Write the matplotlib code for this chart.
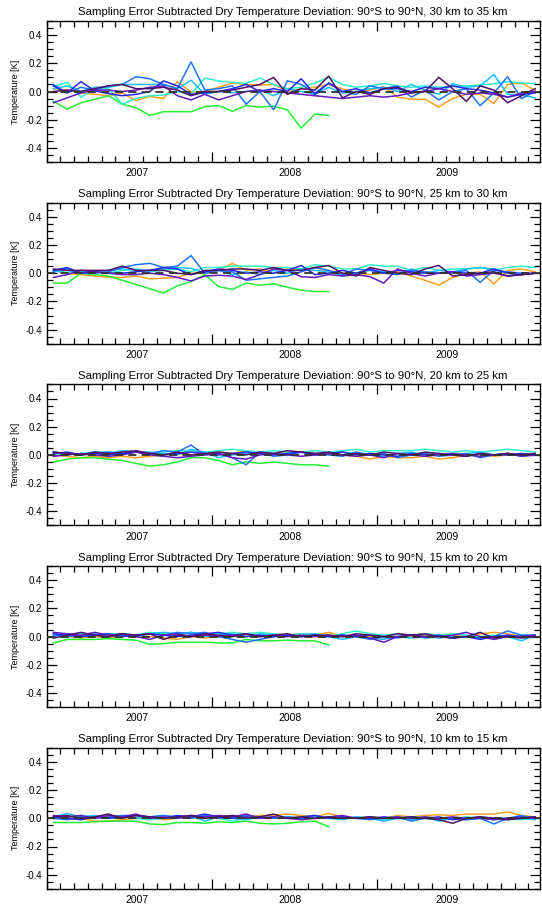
import matplotlib
matplotlib.use("Agg")
import matplotlib.pyplot as plt
import numpy as np
from matplotlib.ticker import MultipleLocator, FormatStrFormatter, FixedLocator
from matplotlib.transforms import blended_transform_factory

plt.rcParams['font.family'] = ['Liberation Sans', 'DejaVu Sans']
plt.rcParams['axes.unicode_minus'] = False

# Monthly time axis (month index, values sit at mid-month)
n_months = 36
year_labels = ['2007', '2008', '2009']
year_label_pos = [6.6, 17.7, 29.1]
year_ticks = [12, 24]

layers = ['30 km to 35 km', '25 km to 30 km', '20 km to 25 km',
          '15 km to 20 km', '10 km to 15 km']

# ---- 30 km to 35 km ----
green_30 = [-0.07, -0.125, -0.08, -0.055, -0.03, -0.09, -0.115, -0.17, -0.143, -0.143, -0.143, -0.107,
            -0.10, -0.14, -0.10, -0.11, -0.105, -0.13, -0.26, -0.16, -0.17]
orange_30 = [0.02, 0.01, -0.01, -0.02, -0.03, -0.01, -0.065, -0.035, -0.05, 0.07, -0.005, 0.0,
             0.03, 0.06, 0.05, 0.045, 0.05, 0.0, 0.02, 0.03, 0.05, 0.02, -0.01, 0.01,
             0.035, -0.04, -0.055, -0.055, -0.11, -0.05, -0.02, -0.02, -0.085, 0.05, 0.06, 0.01]
turq_30 = [0.035, 0.065, -0.04, 0.015, 0.02, -0.09, -0.05, -0.03, -0.025, 0.0, -0.02, 0.095,
           0.075, 0.065, 0.057, 0.095, 0.05, 0.02, 0.03, 0.06, 0.1, 0.05, 0.03, 0.04,
           0.057, 0.04, 0.03, 0.04, 0.03, 0.035, 0.04, 0.045, 0.055, 0.07, 0.06, 0.057]
sky_30 = [0.02, 0.04, 0.0, 0.03, 0.03, 0.05, 0.05, 0.05, 0.05, 0.02, 0.08, -0.02,
          0.0, -0.01, 0.0, 0.01, -0.03, 0.02, 0.0, -0.02, 0.03, -0.01, 0.0, 0.02,
          0.03, 0.0, 0.05, 0.01, -0.02, 0.055, 0.03, 0.04, 0.12, -0.02, -0.025, -0.045]
dodger_30 = [0.05, -0.01, 0.03, 0.01, 0.04, 0.05, 0.105, 0.09, 0.05, 0.02, 0.21, 0.01,
             0.02, 0.04, -0.09, 0.0, -0.13, 0.075, 0.05, -0.01, 0.06, 0.0, -0.02, 0.04,
             0.02, 0.04, -0.04, 0.01, -0.06, 0.0, 0.02, -0.1, -0.01, 0.105, -0.05, 0.0]
blue_30 = [0.04, -0.01, 0.07, 0.005, -0.015, -0.03, -0.02, 0.0, 0.075, 0.04, -0.02, -0.01,
           0.0, 0.02, 0.05, 0.0, 0.02, 0.0, 0.09, -0.02, 0.06, 0.0, 0.02, -0.01,
           0.02, 0.02, 0.0, 0.03, 0.02, 0.04, 0.02, 0.01, -0.01, -0.04, -0.02, -0.01]
purple_30 = [-0.08, -0.045, -0.01, 0.01, 0.01, 0.0, 0.01, 0.03, 0.04, -0.03, -0.06, -0.02,
             -0.06, -0.03, 0.0, 0.01, 0.0, -0.01, -0.02, -0.03, -0.04, -0.05, -0.04, -0.03,
             -0.04, -0.03, -0.01, 0.0, 0.02, 0.0, -0.02, -0.01, -0.02, -0.04, -0.01, 0.0]
dpurple_30 = [0.0, 0.01, 0.0, 0.02, 0.04, 0.05, 0.02, 0.02, 0.03, 0.01, -0.03, 0.0,
              0.0, 0.01, 0.03, 0.05, 0.1, -0.02, 0.02, 0.01, 0.11, -0.045, 0.0, -0.02,
              0.02, 0.03, -0.01, 0.0, 0.1, 0.02, -0.07, 0.04, 0.01, -0.08, -0.03, 0.02]

# ---- 25 km to 30 km ----
green_25 = [-0.07, -0.07, 0.0, -0.01, -0.02, -0.05, -0.08, -0.11, -0.14, -0.09, -0.06, -0.01,
            -0.095, -0.115, -0.07, -0.085, -0.075, -0.1, -0.12, -0.13, -0.13]
orange_25 = [0.02, 0.0, -0.01, -0.02, -0.03, -0.03, -0.02, -0.04, -0.035, -0.03, 0.0, 0.0,
             0.02, 0.07, 0.02, 0.03, 0.0, 0.03, 0.02, 0.04, 0.02, 0.0, 0.0, -0.01,
             0.0, 0.01, -0.02, -0.05, -0.085, -0.03, 0.0, 0.01, -0.075, 0.02, 0.03, 0.01]
turq_25 = [0.02, 0.0, 0.01, 0.01, 0.0, 0.02, 0.03, 0.01, 0.02, 0.03, 0.01, 0.04,
           0.04, 0.05, 0.05, 0.05, 0.04, 0.04, 0.03, 0.06, 0.05, 0.03, 0.03, 0.06,
           0.05, 0.05, 0.02, 0.04, 0.02, 0.03, 0.03, 0.04, 0.02, 0.04, 0.05, 0.04]
sky_25 = [0.01, 0.02, 0.0, 0.01, 0.02, 0.03, 0.02, 0.02, 0.03, 0.04, 0.035, 0.0,
          0.02, -0.01, 0.01, -0.01, 0.02, 0.0, 0.03, 0.02, 0.01, -0.02, 0.0, 0.02,
          0.01, -0.01, 0.03, 0.0, 0.02, 0.01, 0.03, 0.04, 0.03, 0.0, -0.01, 0.0]
dodger_25 = [0.02, 0.03, 0.0, 0.0, 0.01, 0.04, 0.06, 0.07, 0.04, 0.05, 0.125, 0.0,
             0.02, 0.01, -0.05, -0.04, -0.03, -0.02, 0.01, 0.04, 0.02, -0.01, 0.03, 0.02,
             0.0, -0.01, 0.02, 0.01, 0.0, 0.0, 0.02, -0.065, 0.02, 0.01, 0.0, 0.0]
blue_25 = [0.02, 0.04, 0.0, 0.01, 0.0, 0.0, 0.01, 0.02, 0.04, 0.03, -0.01, 0.01,
           0.03, 0.02, 0.0, 0.01, 0.0, 0.02, 0.055, -0.01, 0.0, 0.02, 0.0, 0.03,
           0.0, 0.02, 0.01, 0.0, 0.0, 0.01, 0.0, 0.0, 0.03, 0.0, -0.01, 0.0]
purple_25 = [-0.03, -0.01, 0.02, 0.01, 0.0, -0.01, -0.01, 0.0, -0.01, -0.03, -0.055, -0.02,
             -0.015, -0.02, -0.045, -0.01, 0.03, 0.02, -0.025, -0.03, -0.01, -0.02, -0.01, -0.025,
             -0.07, 0.03, 0.0, -0.02, 0.0, 0.01, -0.02, -0.01, 0.0, -0.02, -0.01, 0.0]
dpurple_25 = [0.03, 0.02, 0.02, 0.02, 0.02, 0.05, 0.02, 0.02, 0.02, 0.0, -0.01, 0.02,
              0.02, 0.03, 0.03, 0.02, 0.04, 0.02, 0.02, 0.04, 0.055, 0.0, -0.02, 0.04,
              0.02, 0.0, -0.01, 0.03, 0.055, -0.02, -0.01, 0.0, 0.01, -0.02, -0.01, 0.0]

# ---- 20 km to 25 km ----
green_20 = [-0.05, -0.03, -0.02, -0.02, -0.03, -0.04, -0.06, -0.08, -0.07, -0.05, -0.02, -0.02,
            -0.04, -0.07, -0.05, -0.06, -0.05, -0.06, -0.07, -0.07, -0.08]
orange_20 = [0.0, -0.01, -0.02, -0.01, -0.02, -0.01, -0.02, -0.01, 0.0, 0.01, 0.0, 0.01,
             0.02, 0.01, 0.03, 0.01, 0.0, 0.01, 0.02, 0.01, 0.0, 0.0, -0.01, -0.03,
             -0.01, -0.02, -0.02, -0.01, -0.03, -0.02, 0.0, 0.0, -0.01, 0.0, 0.01, 0.0]
turq_20 = [0.01, 0.0, 0.01, 0.02, 0.02, 0.01, 0.02, 0.01, 0.02, 0.03, 0.03, 0.02,
           0.03, 0.04, 0.03, 0.02, 0.03, 0.02, 0.02, 0.03, 0.02, 0.03, 0.04, 0.02,
           0.03, 0.03, 0.03, 0.04, 0.03, 0.02, 0.03, 0.02, 0.03, 0.04, 0.03, 0.02]
sky_20 = [0.02, 0.01, 0.0, 0.02, 0.01, 0.03, 0.02, 0.02, 0.01, 0.0, 0.04, 0.02,
          -0.02, 0.0, 0.01, 0.02, 0.01, 0.0, 0.02, 0.0, 0.01, 0.02, 0.01, 0.0,
          -0.01, 0.01, 0.02, 0.0, 0.01, 0.0, 0.01, 0.02, 0.0, 0.01, -0.01, 0.0]
dodger_20 = [0.02, 0.01, 0.0, 0.01, 0.02, 0.01, 0.02, 0.01, 0.03, 0.02, 0.07, 0.0,
             0.01, -0.02, -0.07, 0.02, -0.01, 0.0, 0.02, 0.01, 0.0, -0.01, 0.02, 0.0,
             0.01, -0.02, 0.0, 0.01, -0.01, 0.0, 0.01, -0.02, 0.0, 0.01, 0.0, 0.0]
blue_20 = [0.01, 0.02, 0.0, 0.01, 0.0, 0.01, 0.02, 0.01, 0.0, 0.01, 0.02, 0.01,
           0.0, 0.01, 0.02, 0.01, 0.0, 0.01, 0.02, 0.0, 0.01, 0.02, 0.0, 0.01,
           0.0, -0.01, 0.01, 0.0, 0.01, 0.0, -0.01, 0.01, 0.0, 0.0, 0.01, 0.0]
purple_20 = [-0.01, 0.0, 0.01, 0.0, -0.01, 0.0, 0.02, 0.0, -0.01, -0.02, -0.01, 0.0,
             0.01, -0.02, -0.03, 0.0, 0.01, 0.0, -0.01, 0.0, 0.01, 0.0, -0.01, 0.0,
             -0.02, 0.01, 0.0, -0.01, 0.0, 0.01, 0.0, -0.01, 0.0, 0.01, -0.01, 0.0]
dpurple_20 = [0.02, 0.01, 0.0, 0.02, 0.01, 0.02, 0.03, 0.01, 0.0, 0.02, 0.0, 0.01,
              0.02, 0.01, 0.0, 0.02, 0.01, 0.03, 0.02, 0.01, 0.02, 0.0, 0.01, 0.0,
              0.02, 0.01, 0.0, 0.02, 0.01, 0.0, -0.01, 0.01, 0.0, 0.01, 0.0, 0.01]

# ---- 15 km to 20 km ----
green_15 = [-0.045, -0.02, -0.02, -0.02, -0.015, -0.02, -0.025, -0.055, -0.05, -0.04, -0.04, -0.04,
            -0.045, -0.045, -0.02, -0.03, -0.03, -0.025, -0.03, -0.03, -0.06]
orange_15 = [0.01, 0.0, -0.01, 0.0, -0.01, 0.0, 0.01, 0.0, -0.01, -0.02, 0.0, -0.01,
             0.0, 0.01, 0.0, 0.01, 0.0, 0.01, 0.02, 0.01, 0.03, 0.0, 0.01, 0.0,
             -0.01, 0.0, 0.0, 0.01, 0.0, 0.01, 0.0, 0.02, 0.03, 0.02, 0.0, 0.0]
turq_15 = [0.02, 0.01, 0.02, 0.01, 0.02, 0.02, 0.01, 0.03, 0.02, 0.01, 0.03, 0.02,
           0.02, 0.03, 0.02, 0.03, 0.02, 0.01, 0.02, 0.02, 0.0, 0.02, 0.04, 0.02,
           0.01, 0.02, 0.01, 0.02, 0.01, 0.02, 0.01, 0.0, 0.01, 0.0, 0.01, 0.01]
sky_15 = [0.01, 0.0, 0.01, 0.02, 0.0, 0.02, 0.01, 0.02, 0.03, 0.02, 0.03, 0.0,
          0.01, 0.02, 0.0, 0.02, 0.01, 0.0, 0.01, 0.02, 0.0, -0.02, 0.0, -0.01,
          -0.02, 0.0, -0.01, 0.0, -0.01, 0.0, 0.0, -0.01, 0.0, 0.0, -0.03, 0.01]
dodger_15 = [0.0, 0.02, 0.0, 0.01, 0.0, 0.01, 0.0, 0.02, 0.01, 0.03, 0.02, 0.03,
             0.0, -0.02, -0.04, -0.02, 0.0, 0.01, 0.0, 0.01, 0.0, 0.01, 0.0, -0.02,
             0.0, -0.01, 0.01, -0.01, 0.0, -0.01, 0.0, -0.01, 0.0, 0.04, 0.01, 0.01]
blue_15 = [0.02, 0.01, 0.0, 0.01, 0.02, 0.0, 0.01, 0.02, 0.01, 0.0, 0.01, 0.02,
           0.03, 0.01, 0.0, 0.01, 0.0, 0.01, 0.0, 0.01, 0.0, 0.01, 0.0, 0.01,
           0.0, 0.0, 0.01, 0.0, 0.01, -0.01, 0.0, -0.02, 0.0, 0.01, 0.0, 0.01]
purple_15 = [0.03, 0.02, 0.01, 0.03, 0.01, 0.02, 0.0, -0.02, 0.01, 0.02, 0.0, 0.01,
             0.0, 0.01, 0.02, 0.0, 0.01, 0.0, 0.01, 0.0, 0.01, 0.0, 0.01, -0.01,
             -0.04, 0.0, 0.01, 0.0, 0.0, 0.01, 0.03, 0.0, -0.02, 0.0, 0.0, 0.01]
dpurple_15 = [-0.01, 0.01, 0.03, 0.01, 0.0, 0.02, 0.01, 0.02, -0.02, 0.01, 0.0, 0.02,
              0.01, 0.0, 0.02, 0.0, 0.01, 0.02, 0.0, 0.01, 0.01, 0.0, 0.02, 0.01,
              0.0, 0.02, 0.01, 0.02, 0.0, -0.01, 0.0, 0.03, -0.01, 0.0, -0.01, 0.0]

# ---- 10 km to 15 km ----
green_10 = [-0.03, -0.03, -0.03, -0.025, -0.02, -0.02, -0.02, -0.04, -0.045, -0.03, -0.03, -0.035,
            -0.025, -0.03, -0.02, -0.035, -0.04, -0.035, -0.025, -0.02, -0.06]
orange_10 = [0.0, 0.01, 0.0, -0.02, -0.02, -0.01, 0.0, 0.01, -0.01, 0.0, 0.01, 0.0,
             0.01, 0.02, 0.01, 0.02, 0.02, 0.03, 0.02, 0.01, 0.035, 0.01, 0.0, 0.01,
             0.0, 0.02, 0.01, 0.02, 0.025, 0.02, 0.03, 0.03, 0.03, 0.045, 0.02, 0.01]
turq_10 = [0.0, 0.01, 0.02, 0.01, 0.0, 0.01, 0.0, -0.01, 0.0, 0.01, 0.0, 0.01,
           0.0, -0.02, 0.0, 0.01, 0.0, 0.01, 0.0, 0.01, 0.0, 0.0, 0.01, 0.0,
           -0.01, 0.0, 0.01, 0.0, -0.01, 0.0, 0.01, 0.0, -0.01, 0.0, -0.01, 0.0]
sky_10 = [0.01, 0.035, 0.01, 0.02, 0.0, 0.01, 0.0, 0.01, 0.02, 0.0, 0.02, -0.02,
          0.01, 0.0, -0.01, 0.01, 0.0, 0.01, 0.0, 0.0, 0.0, -0.01, 0.01, 0.0,
          -0.02, 0.0, -0.01, 0.01, -0.02, 0.0, -0.01, 0.0, 0.0, -0.01, 0.0, -0.01]
dodger_10 = [0.0, -0.01, 0.01, 0.0, 0.01, 0.02, 0.02, 0.01, 0.02, 0.01, 0.0, 0.02,
             0.0, 0.01, 0.02, 0.01, 0.0, 0.01, 0.0, 0.02, 0.0, 0.01, 0.0, -0.01,
             0.0, 0.01, -0.02, 0.0, 0.0, 0.0, -0.01, 0.0, -0.04, 0.0, 0.02, 0.0]
blue_10 = [0.01, 0.0, -0.01, 0.01, 0.0, 0.01, 0.02, 0.01, 0.0, 0.02, 0.01, 0.03,
           0.01, 0.0, 0.01, 0.0, 0.01, 0.0, 0.01, 0.02, 0.0, 0.01, 0.0, 0.0,
           0.01, 0.0, 0.01, 0.0, 0.01, -0.01, 0.0, 0.01, 0.0, 0.0, 0.01, 0.0]
purple_10 = [0.02, 0.01, 0.02, 0.0, 0.02, 0.01, 0.03, 0.0, 0.01, 0.0, 0.02, 0.01,
             0.02, 0.01, 0.03, 0.0, 0.01, 0.0, -0.01, 0.0, 0.01, 0.02, 0.0, 0.01,
             0.0, 0.01, 0.0, 0.01, 0.0, 0.01, 0.0, 0.0, -0.01, 0.0, 0.0, 0.01]
dpurple_10 = [0.01, 0.02, 0.0, 0.01, 0.03, 0.0, 0.02, 0.01, 0.0, 0.01, 0.02, 0.0,
              0.01, 0.02, 0.0, 0.01, 0.03, 0.0, 0.01, 0.0, 0.01, 0.0, 0.0, 0.01,
              0.0, 0.0, 0.01, 0.0, -0.01, -0.035, 0.0, 0.01, 0.0, -0.01, 0.0, 0.01]

colors = {
    'orange': '#ffa020',
    'green': '#22ee33',
    'turq': '#2eefc8',
    'sky': '#18c0ff',
    'dodger': '#1e74ff',
    'blue': '#2228f0',
    'purple': '#6418c0',
    'dpurple': '#4e1066',
}

panels = [
    {'green': green_30, 'orange': orange_30, 'turq': turq_30, 'sky': sky_30,
     'dodger': dodger_30, 'blue': blue_30, 'purple': purple_30, 'dpurple': dpurple_30},
    {'green': green_25, 'orange': orange_25, 'turq': turq_25, 'sky': sky_25,
     'dodger': dodger_25, 'blue': blue_25, 'purple': purple_25, 'dpurple': dpurple_25},
    {'green': green_20, 'orange': orange_20, 'turq': turq_20, 'sky': sky_20,
     'dodger': dodger_20, 'blue': blue_20, 'purple': purple_20, 'dpurple': dpurple_20},
    {'green': green_15, 'orange': orange_15, 'turq': turq_15, 'sky': sky_15,
     'dodger': dodger_15, 'blue': blue_15, 'purple': purple_15, 'dpurple': dpurple_15},
    {'green': green_10, 'orange': orange_10, 'turq': turq_10, 'sky': sky_10,
     'dodger': dodger_10, 'blue': blue_10, 'purple': purple_10, 'dpurple': dpurple_10},
]
draw_order = ['orange', 'green', 'turq', 'sky', 'dodger', 'blue', 'purple', 'dpurple']

W, H = 542, 906
fig = plt.figure(figsize=(W / 100, H / 100), dpi=100)

left_px, right_px = 46.5, 540.0
ax_h_px = 141.0
tops_px = [21.0, 202.7, 384.4, 566.1, 747.8]

for i, (layer, data) in enumerate(zip(layers, panels)):
    top = tops_px[i]
    ax = fig.add_axes([left_px / W, 1 - (top + ax_h_px) / H,
                       (right_px - left_px) / W, ax_h_px / H])
    for key in draw_order:
        vals = np.array(data[key])
        x = np.arange(len(vals)) + 0.5
        ax.plot(x, vals, color=colors[key], lw=1.1, solid_joinstyle='miter', zorder=2)
    ax.axhline(0, color='#303030', lw=1.3, ls=(0, (4.5, 3)), zorder=3)

    ax.set_xlim(0, 35.85)
    ax.set_ylim(-0.5, 0.5)

    ax.xaxis.set_major_locator(FixedLocator(year_ticks))
    ax.xaxis.set_minor_locator(MultipleLocator(1))
    ax.set_xticklabels([])
    ax.yaxis.set_major_locator(MultipleLocator(0.2))
    ax.yaxis.set_minor_locator(MultipleLocator(0.05))
    ax.yaxis.set_major_formatter(FormatStrFormatter('%.1f'))

    ax.tick_params(which='both', direction='in', top=True, right=True,
                   width=0.9, color='black')
    ax.tick_params(which='major', length=7)
    ax.tick_params(which='minor', length=4)
    ax.tick_params(axis='y', labelsize=7, pad=3)
    for sp in ax.spines.values():
        sp.set_linewidth(1.0)

    trans = blended_transform_factory(ax.transData, ax.transAxes)
    for pos, lab in zip(year_label_pos, year_labels):
        ax.text(pos, -0.045, lab, transform=trans, ha='center', va='top', fontsize=7.5)

    ax.set_ylabel('Temperature [K]', fontsize=6.5, labelpad=4)
    ax.set_title('Sampling Error Subtracted Dry Temperature Deviation: 90°S to 90°N, ' + layer,
                 fontsize=8.2, pad=4)

fig.savefig('out.png', dpi=100)
